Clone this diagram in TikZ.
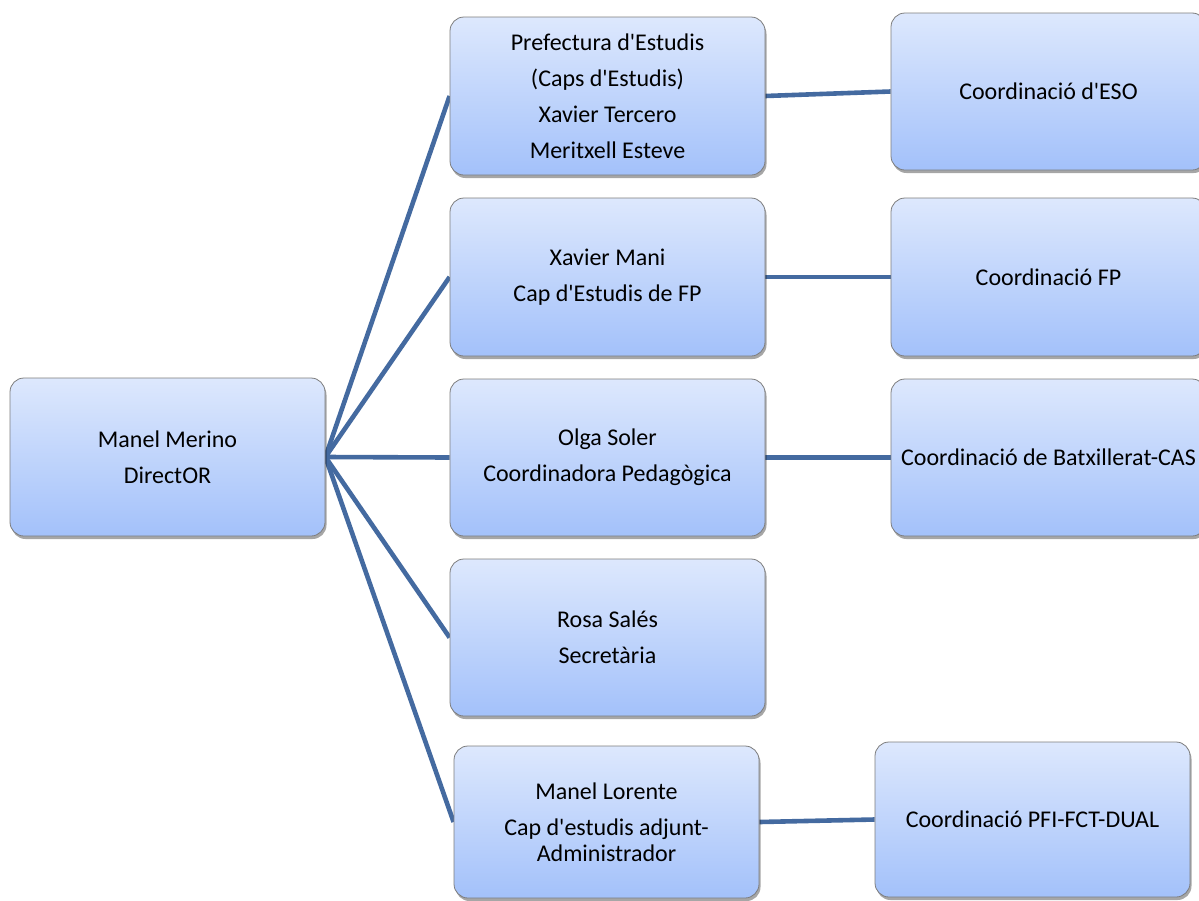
\documentclass[tikz,border=0pt]{standalone}
\usepackage{fontspec}
\setmainfont{Carlito}
\usetikzlibrary{shadows,backgrounds}
\definecolor{boxtop}{RGB}{221,232,253}
\definecolor{boxbot}{RGB}{163,193,250}
\definecolor{boxborder}{RGB}{125,125,125}
\definecolor{linkcol}{RGB}{68,106,160}
\newcommand{\apo}{\textquotesingle}
\begin{document}
\begin{tikzpicture}[x=1pt,y=-1pt,
  box/.style={draw=boxborder, line width=0.8pt, rounded corners=14pt,
    top color=boxtop, bottom color=boxbot,
    drop shadow={shadow xshift=1.5pt, shadow yshift=-3pt, opacity=0.35, fill=black},
    align=center, inner sep=0pt, text=black,
    font=\fontsize{24}{26}\selectfont},
  link/.style={draw=linkcol, line width=4.6pt}]
\clip (0,0) rectangle (1199,900);
\useasboundingbox (0,0) rectangle (1199,900);

\node[box, minimum width=315pt, minimum height=158pt] (dir) at (167.5,457) {Manel Merino\\[10pt]DirectOR};

\node[box, minimum width=315pt, minimum height=158pt] (pref) at (607.5,96) {Prefectura d\apo Estudis\\[10pt](Caps d\apo Estudis)\\[10pt]Xavier Tercero\\[10pt]Meritxell Esteve};
\node[box, minimum width=315pt, minimum height=158pt] (mani) at (607.5,277) {Xavier Mani\\[10pt]Cap d\apo Estudis de FP};
\node[box, minimum width=315pt, minimum height=157pt] (olga) at (607.5,457.5) {Olga Soler\\[10pt]Coordinadora Pedagògica};
\node[box, minimum width=315pt, minimum height=157pt] (rosa) at (607.5,637.5) {Rosa Salés\\[10pt]Secretària};
\node[box, minimum width=305pt, minimum height=152pt] (lor) at (606.5,822) {Manel Lorente\\[10pt]Cap d\apo estudis adjunt-\\Administrador};

\node[box, minimum width=315pt, minimum height=157pt] (eso) at (1048.5,91.5) {Coordinació d\apo ESO};
\node[box, minimum width=315pt, minimum height=158pt] (fp) at (1048.5,277) {Coordinació FP};
\node[box, minimum width=315pt, minimum height=157pt] (batx) at (1048.5,457.5) {Coordinació de Batxillerat-CAS};
\node[box, minimum width=315pt, minimum height=155pt] (pfi) at (1032.5,819.5) {Coordinació PFI-FCT-DUAL};

\begin{pgfonlayer}{background}
\fill[white] (0,0) rectangle (1199,900);
\draw[link] (dir.east) -- (pref.west);
\draw[link] (dir.east) -- (mani.west);
\draw[link] (dir.east) -- (olga.west);
\draw[link] (dir.east) -- (rosa.west);
\draw[link] (dir.east) -- (lor.west);
\draw[link] (pref.east) -- (eso.west);
\draw[link] (mani.east) -- (fp.west);
\draw[link] (olga.east) -- (batx.west);
\draw[link] (lor.east) -- (pfi.west);
\end{pgfonlayer}
\end{tikzpicture}
\end{document}
